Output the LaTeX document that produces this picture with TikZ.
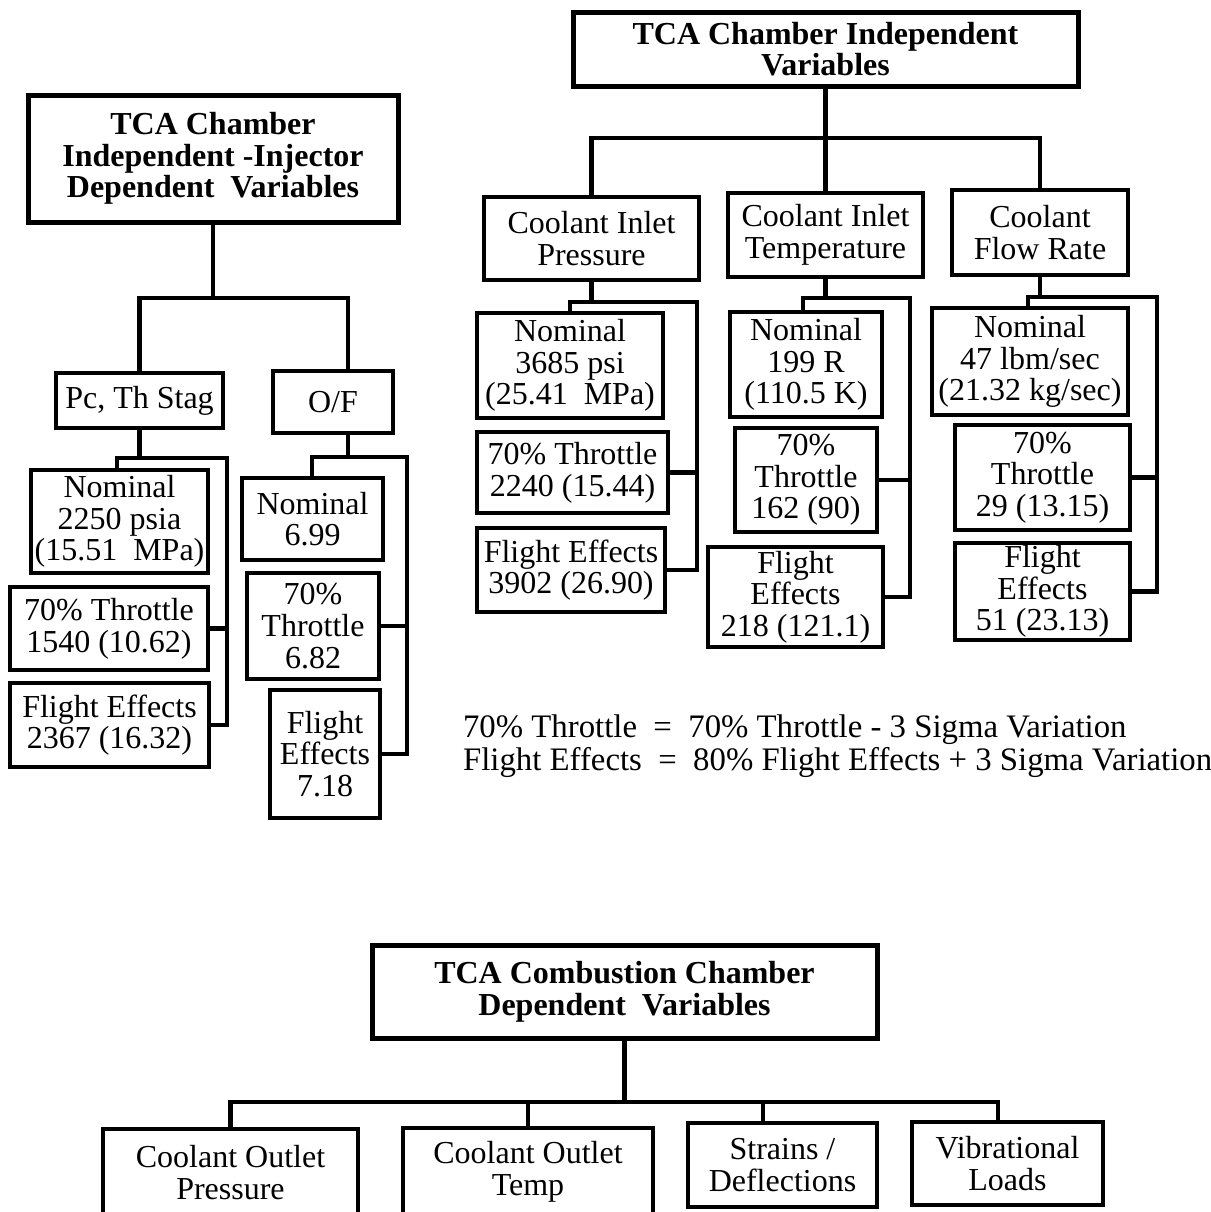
\documentclass[tikz,border=0pt]{standalone}
\usepackage{fontspec}
\setmainfont{Liberation Serif}
\usepackage{tikz}
\usetikzlibrary{positioning}
\newcommand{\chartfont}{\fontsize{16}{15.8}\selectfont}

\begin{document}
\begin{tikzpicture}[x=0.5pt, y=-0.5pt, font=\chartfont]
\tikzstyle{headbox} = [rectangle, draw=black, line width=2.5pt, align=center, inner sep=1pt, font=\chartfont\bfseries]
\tikzstyle{varbox} = [rectangle, draw=black, line width=1.7pt, align=center, inner sep=1pt]
\tikzstyle{link} = [line width=2.1pt, line cap=rect]

\useasboundingbox (0,0) rectangle (1211,1212);

% left tree: injector dependent variables
\node (ltitle) [headbox, minimum width=185pt, minimum height=63.5pt] at (213,158.5) {TCA Chamber\\Independent -Injector\\Dependent\ \ Variables};
\node (pc) [varbox, minimum width=83.5pt, minimum height=27.5pt] at (139.5,400.5) {Pc, Th Stag};
\node (of) [varbox, minimum width=60pt, minimum height=31pt] at (333,402) {O/F};
\node (pcnom) [varbox, minimum width=88.5pt, minimum height=51.5pt] at (119.5,521.5) {Nominal\\2250 psia\\(15.51\ \ MPa)};
\node (pcthr) [varbox, minimum width=99pt, minimum height=41.5pt] at (109,628.5) {70\% Throttle\\1540\ (10.62)};
\node (pcfe) [varbox, minimum width=99.5pt, minimum height=42pt] at (109.5,725) {Flight Effects\\2367\ (16.32)};
\node (ofnom) [varbox, minimum width=70.5pt, minimum height=41pt] at (312.5,519) {Nominal\\6.99};
\node (ofthr) [varbox, minimum width=66pt, minimum height=53pt] at (313,626) {70\%\\Throttle\\6.82};
\node (offe) [varbox, minimum width=55pt, minimum height=64pt] at (325,754) {Flight\\Effects\\7.18};

\coordinate (lsplit) at (213,298);
\coordinate (ofstem) at (348,457);
\draw[link] (ltitle.south) -- (lsplit);
\draw[link] (pc.north) |- (lsplit) -| (of.north -| ofstem);

\coordinate (pcL) at (117,458);
\coordinate (pcR) at (227,458);
\draw[link] (pc.south) -- (pc.south |- pcL);
\draw[link] (pcL |- pcnom.north) -- (pcL) -- (pcR) |- (pcfe.east);
\draw[link] (pcthr.east) -- (pcthr.east -| pcR);

\coordinate (ofL) at (312,457);
\coordinate (ofR) at (407,457);
\draw[link] (ofstem |- of.south) -- (ofstem);
\draw[link] (ofL |- ofnom.north) -- (ofL) -- (ofR) |- (offe.east);
\draw[link] (ofthr.east) -- (ofthr.east -| ofR);

% right tree: chamber independent variables
\node (rtitle) [headbox, minimum width=252.5pt, minimum height=37pt] at (825.5,49) {TCA Chamber Independent\\Variables};
\node (cip) [varbox, minimum width=107.5pt, minimum height=41.5pt] at (591.5,238.5) {Coolant Inlet\\Pressure};
\node (cit) [varbox, minimum width=97.5pt, minimum height=42pt] at (825.5,235) {Coolant Inlet\\Temperature};
\node (cfr) [varbox, minimum width=88pt, minimum height=42.5pt] at (1040,232.5) {Coolant\\Flow Rate};

\node (cipnom) [varbox, minimum width=93pt, minimum height=52.5pt] at (570,365.5) {Nominal\\3685 psi\\(25.41\ \ MPa)};
\node (cipthr) [varbox, minimum width=95.5pt, minimum height=40.5pt] at (572.5,472.5) {70\% Throttle\\2240\ (15.44)};
\node (cipfe) [varbox, minimum width=94pt, minimum height=42pt] at (571,570) {Flight Effects\\3902\ (26.90)};
\node (citnom) [varbox, minimum width=76pt, minimum height=52.5pt] at (806,364.5) {Nominal\\199 R\\(110.5 K)};
\node (citthr) [varbox, minimum width=71pt, minimum height=52pt] at (806,480) {70\%\\Throttle\\162\ (90)};
\node (citfe) [varbox, minimum width=87.5pt, minimum height=50pt] at (795.5,597) {Flight\\Effects\\218 (121.1)};
\node (cfrnom) [varbox, minimum width=98pt, minimum height=53.5pt] at (1030,361.5) {Nominal\\47 lbm/sec\\(21.32 kg/sec)};
\node (cfrthr) [varbox, minimum width=87.5pt, minimum height=52.5pt] at (1042.5,477.5) {70\%\\Throttle\\29 (13.15)};
\node (cfrfe) [varbox, minimum width=87.5pt, minimum height=48.5pt] at (1042.5,591.5) {Flight\\Effects\\51 (23.13)};

\coordinate (rsplit) at (825.5,138);
\draw[link] (rtitle.south) -- (cit.north);
\draw[link] (cip.north) |- (rsplit) -| (cfr.north);

\coordinate (cipL) at (570,302);
\coordinate (cipR) at (697,302);
\draw[link] (cip.south) -- (cip.south |- cipL);
\draw[link] (cipL |- cipnom.north) -- (cipL) -- (cipR) |- (cipfe.east);
\draw[link] (cipthr.east) -- (cipthr.east -| cipR);

\coordinate (citL) at (803,298);
\coordinate (citR) at (910,298);
\draw[link] (cit.south) -- (cit.south |- citL);
\draw[link] (citL |- citnom.north) -- (citL) -- (citR) |- (citfe.east);
\draw[link] (citthr.east) -- (citthr.east -| citR);

\coordinate (cfrL) at (1028,297);
\coordinate (cfrR) at (1157,297);
\draw[link] (cfr.south) -- (cfr.south |- cfrL);
\draw[link] (cfrL |- cfrnom.north) -- (cfrL) -- (cfrR) |- (cfrfe.east);
\draw[link] (cfrthr.east) -- (cfrthr.east -| cfrR);

\node (notes) [anchor=west, align=left, font=\fontsize{16.4}{16.6}\selectfont] at (456,746) {70\% Throttle\ \ =\ \ 70\% Throttle - 3 Sigma Variation\\Flight Effects\ \ =\ \ 80\% Flight Effects + 3 Sigma Variation};

% bottom tree: combustion chamber dependent variables
\node (btitle) [headbox, minimum width=252.5pt, minimum height=46.5pt] at (624.5,991.5) {TCA Combustion Chamber\\Dependent\ \ Variables};
\node (cop) [varbox, minimum width=127.5pt, minimum height=43.5pt] at (230.5,1172.5) {Coolant Outlet\\Pressure};
\node (cot) [varbox, minimum width=125pt, minimum height=44pt] at (528,1172) {Coolant Outlet\\Temp};
\node (sd) [varbox, minimum width=94.5pt, minimum height=42pt] at (782.5,1165) {Strains /\\Deflections};
\node (vl) [varbox, minimum width=95.5pt, minimum height=41.5pt] at (1007.5,1163.5) {Vibrational\\Loads};

\coordinate (bsplit) at (624.5,1102);
\coordinate (sdstem) at (763,1102);
\coordinate (vlstem) at (998,1102);
\draw[link] (btitle.south) -- (bsplit);
\draw[link] (cop.north) |- (bsplit) -- (vlstem) -- (vlstem |- vl.north);
\draw[link] (cot.north) -- (cot.north |- bsplit);
\draw[link] (sdstem) -- (sdstem |- sd.north);
\end{tikzpicture}
\end{document}
